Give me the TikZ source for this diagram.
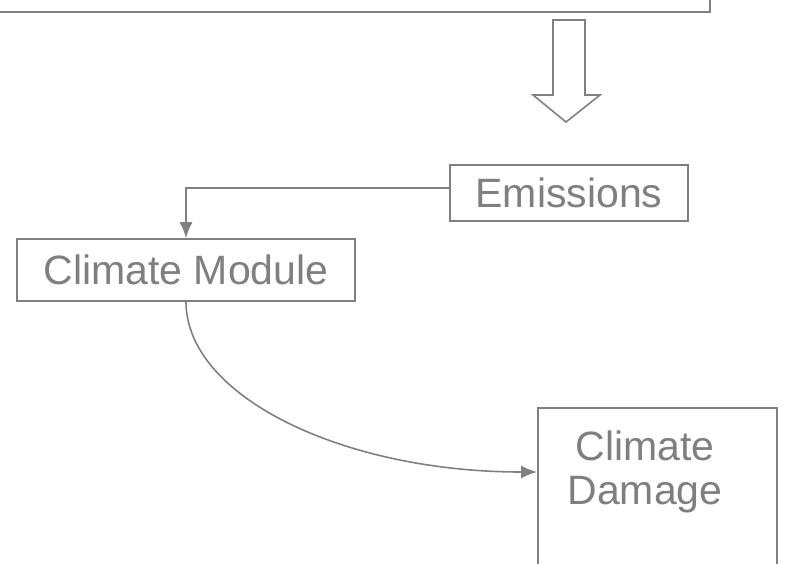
\documentclass[tikz,border=0pt]{standalone}
\usepackage{fontspec}
\setmainfont{Liberation Sans}
\definecolor{ln}{HTML}{808080}
\definecolor{tx}{HTML}{7F7F7F}
\tikzset{
  box/.style={draw=ln, line width=1.6pt, rectangle, inner sep=0pt, text=tx, font=\fontsize{41}{46}\selectfont, align=center},
  conn/.style={draw=ln, line width=1.6pt, -{Latex[length=16pt,width=13pt]}},
}
\usetikzlibrary{arrows.meta}
\begin{document}
\begin{tikzpicture}[x=1pt,y=-1pt]
\useasboundingbox (0,0) rectangle (787,563);
\begin{scope}
\clip (0,0) rectangle (787,563);
% top box (cut off)
\draw[ln, line width=1.6pt] (-20,-50) rectangle (710,12);
% hollow block arrow
\draw[ln, line width=1.6pt, line join=miter] (553,20) -- (585,20) -- (585,95) -- (600,95) -- (566,122) -- (533,95) -- (553,95) -- cycle;
\node[box, minimum width=238pt, minimum height=56pt] (em) at (569,193) {Emissions};
\node[box, minimum width=338pt, minimum height=62pt] (cm) at (186,270) {Climate Module};
\draw[ln, line width=1.6pt] (538,620) -- (538,408) -- (777,408) -- (777,620);
\coordinate (cdw) at (537,472);
\node[text=tx, font=\fontsize{41}{44}\selectfont, align=center] (cd) at (645,472) {Climate\\Damage};
\end{scope}
\draw[conn] (em.west |- 0,188) -| (cm.north);
\draw[conn] (cm.south) .. controls (186,396) and (342,472) .. (cdw);
\end{tikzpicture}
\end{document}
